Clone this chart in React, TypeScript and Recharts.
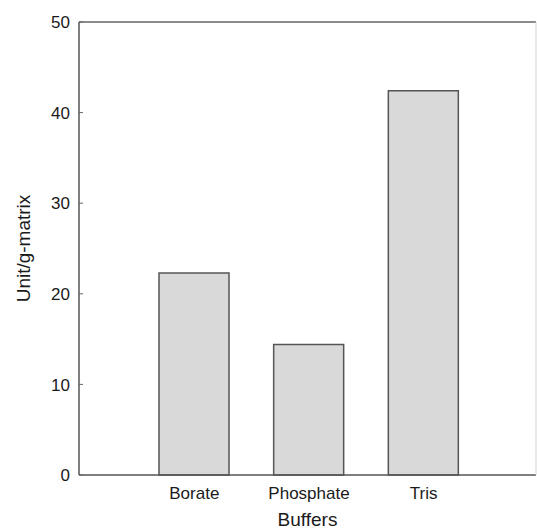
import { BarChart, Bar, XAxis, YAxis } from 'recharts';

const buffers = ['Borate', 'Phosphate', 'Tris'];
const activity = [22.3, 14.4, 42.4];
const yTicks = [0, 10, 20, 30, 40, 50];

const data = buffers.map((name, i) => ({ name, value: activity[i] }));

const FONT = '"Liberation Sans", Arial, sans-serif';

const YTick = (props: any) => {
  const { x, y, payload } = props;
  return (
    <g>
      <line x1={x + 8} x2={x + 12} y1={y} y2={y} stroke="#666" strokeWidth={1} />
      <text x={x - 1} y={y} dy="0.36em" textAnchor="end" fontSize={17} fontFamily={FONT} fill="#1a1a1a">
        {payload.value}
      </text>
    </g>
  );
};

const App = () => {
  return (
    <div style={{ position: 'absolute', left: 0, top: 0, background: '#fff' }}>
      <BarChart
        width={537}
        height={531}
        data={data}
        margin={{ top: 21, right: 0, bottom: 0, left: 0 }}
      >
        <XAxis
          dataKey="name"
          height={56}
          padding={{ left: 58, right: 55 }}
          tickLine={false}
          tickMargin={6}
          axisLine={{ stroke: '#555', strokeWidth: 1.5 }}
          tick={{ fontSize: 17, fontFamily: FONT, fill: '#1a1a1a' }}
          label={{ value: 'Buffers', position: 'insideBottom', offset: 5, fontSize: 19, fontFamily: FONT, fill: '#1a1a1a' }}
        />
        <XAxis
          xAxisId="top"
          orientation="top"
          dataKey="name"
          height={1}
          tick={false}
          tickLine={false}
          axisLine={{ stroke: '#666', strokeWidth: 1.5 }}
        />
        <YAxis
          width={79}
          domain={[0, 50]}
          ticks={yTicks}
          interval={0}
          tickLine={false}
          axisLine={{ stroke: '#555', strokeWidth: 1.5 }}
          tick={<YTick />}
          label={{
            value: 'Unit/g-matrix',
            angle: -90,
            position: 'insideLeft',
            offset: 23,
            style: { textAnchor: 'middle' },
            fontSize: 19,
            fontFamily: FONT,
            fill: '#1a1a1a',
          }}
        />
        <YAxis
          yAxisId="right"
          orientation="right"
          width={1}
          domain={[0, 50]}
          tick={false}
          tickLine={false}
          axisLine={{ stroke: '#d4d4d4', strokeWidth: 1 }}
        />
        <Bar
          dataKey="value"
          barSize={70}
          fill="#d9d9d9"
          stroke="#555"
          strokeWidth={1.5}
          isAnimationActive={false}
        />
      </BarChart>
    </div>
  );
};

export default App;
